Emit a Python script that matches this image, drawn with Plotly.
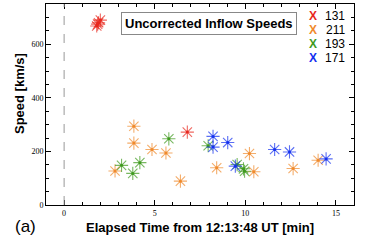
import plotly.graph_objects as go

# Data (elapsed time [min], speed [km/s])
t131 = [1.8, 1.9, 2.0, 1.85, 6.8]
v131 = [668, 680, 690, 675, 272]

t211 = [3.85, 3.85, 2.81, 4.85, 5.62, 6.42, 8.42, 10.23, 10.47, 12.64, 14.02]
v211 = [294, 231, 127, 207, 194, 89, 139, 192, 124, 136, 167]

t193 = [3.17, 3.79, 4.18, 5.78, 7.95, 9.55, 9.96, 9.9]
v193 = [148, 118, 158, 247, 221, 151, 126, 135]

t171 = [8.22, 8.22, 9.03, 9.45, 11.62, 12.44, 14.46]
v171 = [256, 216, 233, 145, 207, 198, 172]

series_names = ["131", "211", "193", "171"]
series_colors = ["#e8281e", "#f08a2c", "#3f9a1e", "#1430f0"]
series_t = [t131, t211, t193, t171]
series_v = [v131, v211, v193, v171]

x_ticks = [0, 5, 10, 15]
y_ticks = [0, 200, 400, 600]

fig = go.Figure()

for name, col, tt, vv in zip(series_names, series_colors, series_t, series_v):
    fig.add_trace(go.Scatter(
        x=tt, y=vv, mode="markers", name=name, showlegend=False,
        marker=dict(symbol="asterisk-open", size=11, color=col,
                    line=dict(width=1.1, color=col), opacity=0.7)))
    fig.add_trace(go.Scatter(
        x=tt, y=vv, mode="markers", showlegend=False, hoverinfo="skip",
        marker=dict(symbol="circle", size=3, color=col)))

# dashed vertical line at t=0
fig.add_shape(type="line", x0=0, x1=0, y0=0, y1=1, xref="x", yref="paper",
              line=dict(color="#999999", width=1, dash="dash"))

# title box
fig.add_annotation(x=209, y=23, xref="paper", yref="paper",
                   text="<b>Uncorrected Inflow Speeds</b>",
                   showarrow=False, font=dict(family="Liberation Sans, Arial", size=13, color="black"),
                   bordercolor="#888888", borderwidth=1, borderpad=3, bgcolor="white")

# custom legend
for i, (name, col) in enumerate(zip(series_names, series_colors)):
    y = 16 + i * 14
    fig.add_annotation(x=313, y=y, text=f"<b>X</b>", showarrow=False,
                       font=dict(family="Liberation Sans, Arial", size=12, color=col))
    fig.add_annotation(x=335, y=y, text=name, showarrow=False,
                       font=dict(family="Liberation Sans, Arial", size=12, color="black"))

# "(a)" label
fig.add_annotation(x=25, y=226, text="(a)", showarrow=False,
                   font=dict(family="Liberation Sans, Arial", size=17, color="black"))

# y-axis title (placed as annotation to match reference position)
fig.add_annotation(x=20, y=94, text="<b>Speed [km/s]</b>", showarrow=False, textangle=-90,
                   font=dict(family="Liberation Sans, Arial", size=13, color="black"))

# convert pixel-based annotations to paper coords
W, H = 369, 240
L, R, T, B = 46, 15, 4, 35
pw, ph = W - L - R, H - T - B
for a in fig.layout.annotations:
    px, py = a.x, a.y
    a.x = (px - L) / pw
    a.y = 1 - (py - T) / ph
    a.xref = "paper"
    a.yref = "paper"
    a.xanchor = "center"
    a.yanchor = "middle"

axis_common = dict(showline=True, linecolor="black", linewidth=1, mirror="allticks",
                   ticks="inside", ticklen=5, tickcolor="black", showgrid=False,
                   zeroline=False,
                   tickfont=dict(family="Liberation Serif, Times New Roman", size=8, color="black"))

fig.update_xaxes(range=[-1, 16], tickvals=x_ticks,
                 minor=dict(dtick=1, ticks="inside", ticklen=3, tickcolor="black"),
                 title=dict(text="<b>Elapsed Time from 12:13:48 UT [min]</b>", standoff=6,
                            font=dict(family="Liberation Sans, Arial", size=13, color="black")),
                 **axis_common)
fig.update_yaxes(range=[0, 750], tickvals=y_ticks,
                 minor=dict(dtick=50, ticks="inside", ticklen=3, tickcolor="black"),
                 **axis_common)

fig.update_layout(width=W, height=H, margin=dict(l=L, r=R, t=T, b=B),
                  paper_bgcolor="white", plot_bgcolor="white")

fig.write_html("out.html", config={"displayModeBar": False},
               post_script="document.body.style.margin='0';document.body.style.overflow='hidden';")
